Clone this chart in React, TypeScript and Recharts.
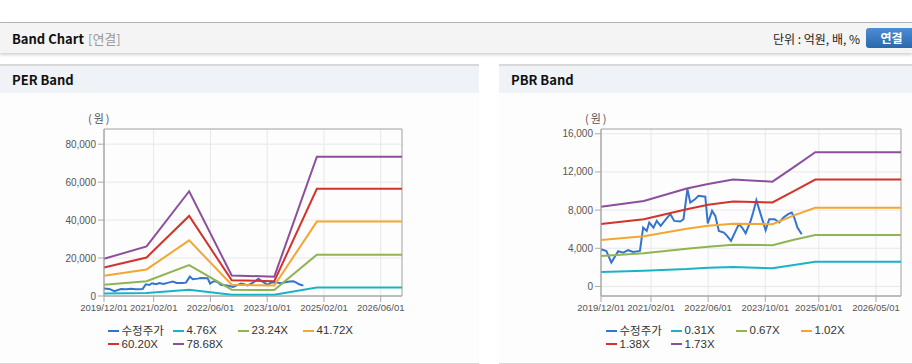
import React from 'react';
import { LineChart, Line, XAxis, YAxis, CartesianGrid, ReferenceArea } from 'recharts';

// x values are months counted from 2019/12
const priceMonths = [
  0, 1.5, 2.9, 4.8, 6.2, 7.6, 9.0, 10.9, 11.8, 12.8, 13.5, 14.7, 15.6, 16.7, 18.2, 19.4, 20.5, 22.2, 23.1,
  24.2, 25.0, 26.4, 27.3, 29.2, 29.9, 31.1, 32.0, 33.0, 34.4, 35.3, 36.4, 37.7, 38.6, 39.5, 40.5, 41.9,
  42.6, 43.5, 44.7, 46.1, 47.1, 48.6, 49.9, 51.1, 52.4, 53.4, 54.1, 55.0, 56.2,
];
const priceValues = [
  3900, 3720, 2500, 3700, 3540, 3800, 3620, 3720, 6170, 5820, 6700, 6170, 6870, 6350, 7050, 7600, 6870, 6800, 7050,
  10200, 8800, 9160, 9500, 9400, 6600, 7920, 7400, 5820, 5640, 5300, 4770, 5820, 6530, 6170, 5580, 6870,
  7750, 9050, 7580, 5890, 7050, 7050, 6700, 7220, 7580, 7750, 7220, 6170, 5470,
];

const perMonths = [0, 12, 24, 36, 48, 60, 84];
const per476 = [1300, 1600, 3350, 650, 620, 4450, 4450];
const per2324 = [5900, 7800, 16300, 3300, 3100, 21800, 21800];
const per4172 = [10700, 14000, 29300, 5900, 5500, 39200, 39200];
const per6020 = [15000, 20300, 42200, 8300, 7800, 56500, 56500];
const per7868 = [19600, 26100, 55200, 10800, 10200, 73400, 73400];
const perTickMonths = [0, 14, 30, 46, 62, 78];
const perTickLabels = ['2019/12/01', '2021/02/01', '2022/06/01', '2023/10/01', '2025/02/01', '2026/06/01'];
const perYTicks = [0, 20000, 40000, 60000, 80000];

const pbrMonths = [0, 12, 24, 30, 37, 48, 54, 60, 84];
const pbr031 = [1520, 1640, 1820, 1960, 2050, 1900, 2250, 2580, 2580];
const pbr067 = [3190, 3480, 3950, 4170, 4380, 4320, 4900, 5400, 5400];
const pbr102 = [4880, 5250, 6050, 6350, 6580, 6530, 7450, 8250, 8250];
const pbr138 = [6550, 7050, 8100, 8560, 8900, 8800, 10000, 11200, 11200];
const pbr173 = [8350, 8950, 10270, 10740, 11200, 10980, 12500, 14060, 14060];
const pbrTickMonths = [0, 14, 30, 46, 61, 77];
const pbrTickLabels = ['2019/12/01', '2021/02/01', '2022/06/01', '2023/10/01', '2025/01/01', '2026/05/01'];
const pbrYTicks = [0, 4000, 8000, 12000, 16000];

const colors = ['#3574cc', '#1ab3c6', '#8fb552', '#f3a733', '#d2332b', '#8d4f9c'];
const perNames = ['수정주가', '4.76X', '23.24X', '41.72X', '60.20X', '78.68X'];
const pbrNames = ['수정주가', '0.31X', '0.67X', '1.02X', '1.38X', '1.73X'];

const toPoints = (ms: number[], vs: number[]) => ms.map((m, i) => ({ m, v: vs[i] }));

const price = toPoints(priceMonths, priceValues);
const perSeries = [price, ...[per476, per2324, per4172, per6020, per7868].map((v) => toPoints(perMonths, v))];
const pbrSeries = [price, ...[pbr031, pbr067, pbr102, pbr138, pbr173].map((v) => toPoints(pbrMonths, v))];

const font = '"Liberation Sans", Arial, "Noto Sans CJK KR", sans-serif';
const krFont = '"Noto Sans CJK KR", "Liberation Sans", sans-serif';

type BandProps = {
  series: { m: number; v: number }[][];
  names: string[];
  tickMonths: number[];
  tickLabels: string[];
  yTicks: number[];
  yDomain: [number, number];
  width: number;
  yWidth: number;
  right: number;
};

const BandChart = ({ series, names, tickMonths, tickLabels, yTicks, yDomain, width, yWidth, right }: BandProps) => (
  <LineChart width={width} height={230} margin={{ top: 36, right, bottom: 7, left: 0 }}>
    <CartesianGrid stroke="#e8e8e8" />
    <XAxis
      type="number"
      dataKey="m"
      domain={[0, 84]}
      ticks={tickMonths}
      interval={0}
      height={20}
      tickFormatter={(m: number) => tickLabels[tickMonths.indexOf(m)]}
      tick={{ fontSize: 9.5, fill: '#555', fontFamily: font }}
      axisLine={{ stroke: '#aaa' }}
      tickLine={{ stroke: '#aaa' }}
    />
    <YAxis
      type="number"
      domain={yDomain}
      ticks={yTicks}
      interval={0}
      width={yWidth}
      allowDataOverflow
      tickFormatter={(v: number) => v.toLocaleString('en-US')}
      tick={{ fontSize: 10, fill: '#555', fontFamily: font }}
      axisLine={{ stroke: '#aaa' }}
      tickLine={{ stroke: '#aaa' }}
    />
    <ReferenceArea x1={0} x2={84} y1={yDomain[0]} y2={yDomain[1]} fill="none" stroke="#aaa" />
    {series.map((d, i) => (
      <Line
        key={names[i]}
        data={d}
        dataKey="v"
        name={names[i]}
        stroke={colors[i]}
        strokeWidth={2}
        dot={false}
        isAnimationActive={false}
      />
    ))}
  </LineChart>
);

const Legend = ({ names, left, top }: { names: string[]; left: number; top: number }) => (
  <div style={{ position: 'absolute', left, top, width: 270, fontFamily: font, fontSize: 11.5, color: '#333' }}>
    {names.map((n, i) => (
      <div
        key={n}
        style={{
          position: 'absolute',
          left: (i % 4) * 65,
          top: Math.floor(i / 4) * 13.5,
          height: 13,
          lineHeight: '13px',
          whiteSpace: 'nowrap',
          display: 'flex',
          alignItems: 'center',
        }}
      >
        <span style={{ display: 'inline-block', width: 11, height: 2, background: colors[i], marginRight: 2.5 }} />
        <span style={{ fontFamily: i === 0 ? krFont : font }}>{n}</span>
      </div>
    ))}
  </div>
);

const Panel = ({ left, title, children }: { left: number; title: string; children: React.ReactNode }) => (
  <div
    style={{
      position: 'absolute',
      left,
      top: 64,
      width: 479,
      height: 297,
      background: '#fdfdfd',
      borderTop: '2px solid #d8d8d8',
      borderBottom: '2px solid #d8d8d8',
    }}
  >
    <div
      style={{
        height: 27,
        background: '#eff2f6',
        fontFamily: krFont,
        fontWeight: 700,
        fontSize: 13,
        lineHeight: '27px',
        paddingLeft: 12,
        color: '#111',
      }}
    >
      {title}
    </div>
    {children}
  </div>
);

export default function App() {
  return (
    <div style={{ position: 'absolute', left: 0, top: 0, width: 912, height: 364, overflow: 'hidden', background: '#fff' }}>
      <div
        style={{
          position: 'absolute',
          left: 0,
          top: 22,
          width: 912,
          height: 30,
          background: '#f4f4f4',
          borderTop: '1px solid #b4b4b4',
          boxShadow: '0 2px 3px rgba(0,0,0,0.18)',
          fontFamily: krFont,
        }}
      >
        <span style={{ position: 'absolute', left: 12, top: 6, fontSize: 13, fontWeight: 700, color: '#111' }}>Band Chart</span>
        <span style={{ position: 'absolute', left: 88, top: 6, fontSize: 13, color: '#999' }}>[연결]</span>
        <span style={{ position: 'absolute', right: 52, top: 7, fontSize: 12, color: '#222' }}>단위 : 억원, 배, %</span>
        <div
          style={{
            position: 'absolute',
            left: 866,
            top: 5,
            width: 51,
            height: 20,
            borderRadius: 3,
            background: 'linear-gradient(#4d8dd3, #2b68ab)',
            color: '#fff',
            fontSize: 12,
            fontWeight: 700,
            lineHeight: '20px',
            textAlign: 'center',
          }}
        >
          연결
        </div>
      </div>

      <Panel left={0} title="PER Band">
        <div style={{ position: 'absolute', left: 88, top: 44, fontFamily: krFont, fontSize: 11, color: '#555', letterSpacing: 2 }}>(원)</div>
        <div style={{ position: 'absolute', left: 0, top: 27 }}>
          <BandChart
            series={perSeries}
            names={perNames}
            tickMonths={perTickMonths}
            tickLabels={perTickLabels}
            yTicks={perYTicks}
            yDomain={[0, 88000]}
            width={479}
            yWidth={104}
            right={77}
          />
        </div>
        <Legend names={perNames} left={108} top={258} />
      </Panel>

      <Panel left={499} title="PBR Band">
        <div style={{ position: 'absolute', left: 86, top: 44, fontFamily: krFont, fontSize: 11, color: '#555', letterSpacing: 2 }}>(원)</div>
        <div style={{ position: 'absolute', left: 0, top: 27 }}>
          <BandChart
            series={pbrSeries}
            names={pbrNames}
            tickMonths={pbrTickMonths}
            tickLabels={pbrTickLabels}
            yTicks={pbrYTicks}
            yDomain={[-1000, 16500]}
            width={413}
            yWidth={102}
            right={11}
          />
        </div>
        <Legend names={pbrNames} left={107} top={258} />
      </Panel>
    </div>
  );
}
